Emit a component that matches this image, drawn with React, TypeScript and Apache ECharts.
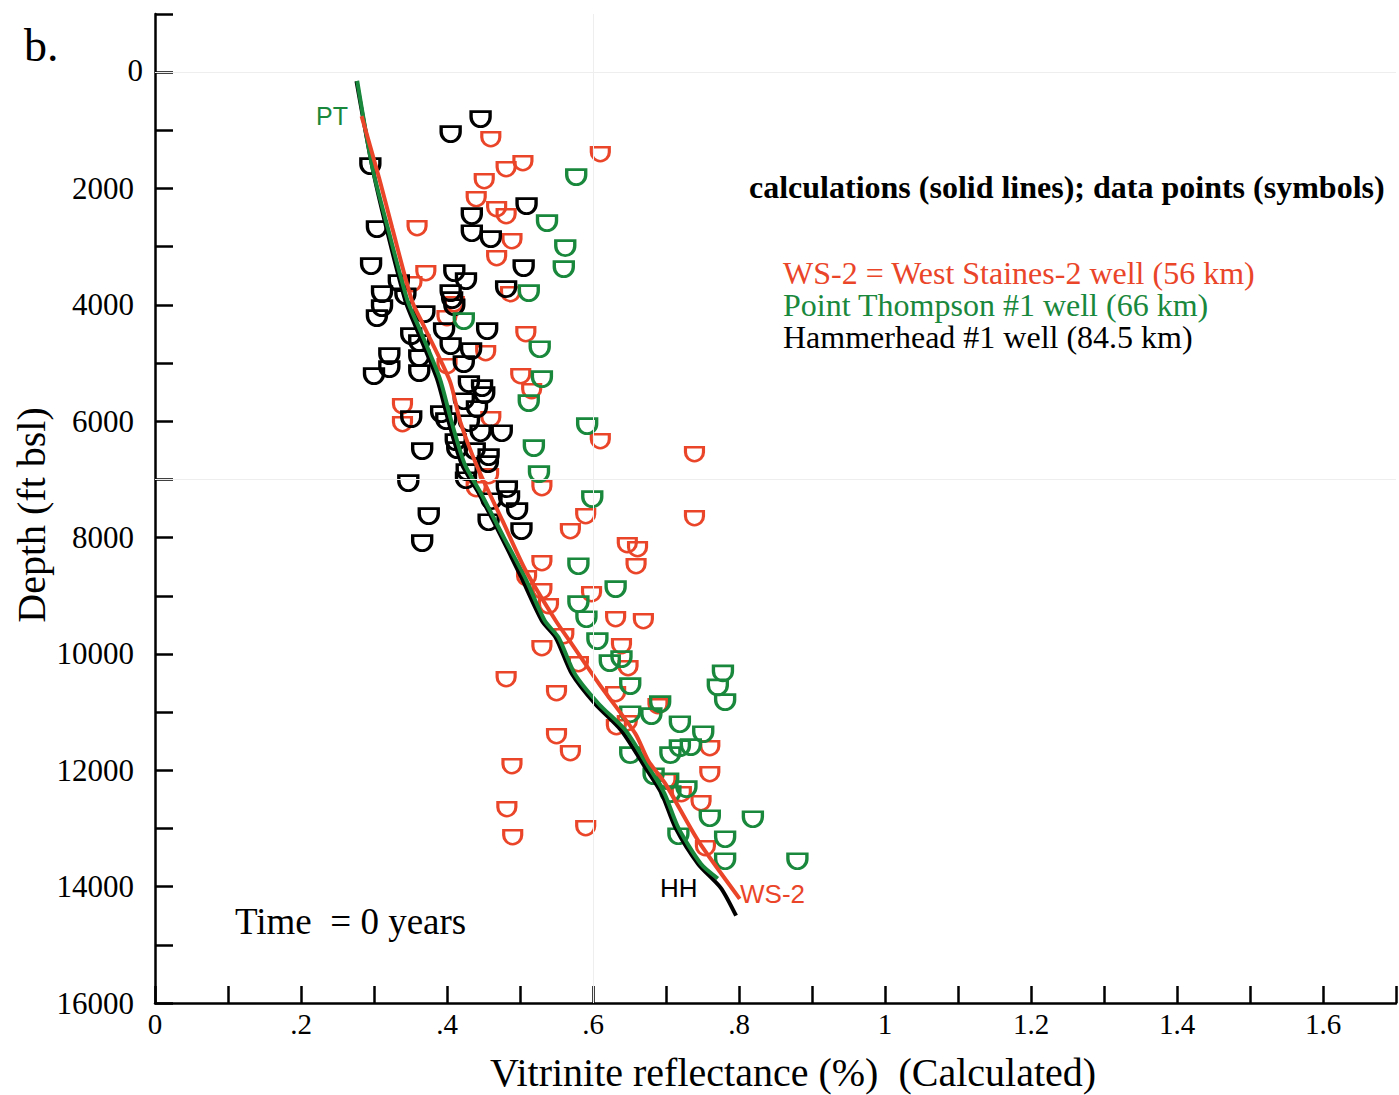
import React, { useEffect, useRef } from "react";
import * as echarts from "echarts";

// ---- data (x = vitrinite reflectance %, y = depth ft bsl) ----
const hhPoints: [number, number][] = [
  [0.446, 808], [0.405, 1066], [0.295, 1616], [0.509, 2303], [0.434, 2475], [0.434, 2768],
  [0.304, 2699], [0.46, 2871], [0.505, 3369], [0.296, 3335], [0.41, 3455], [0.426, 3593],
  [0.334, 3627], [0.481, 3730], [0.311, 3816], [0.405, 3799], [0.407, 3919], [0.343, 3851],
  [0.311, 4057], [0.41, 4040], [0.304, 4229], [0.369, 4160], [0.351, 4538], [0.396, 4452],
  [0.455, 4452], [0.362, 4658], [0.405, 4710], [0.433, 4796], [0.321, 4882], [0.362, 4916],
  [0.321, 5105], [0.3, 5226], [0.362, 5174], [0.423, 5019], [0.43, 5363], [0.448, 5432],
  [0.451, 5552], [0.423, 5656], [0.441, 5793], [0.43, 6034], [0.351, 5965], [0.392, 5879],
  [0.399, 5999], [0.446, 6206], [0.475, 6206], [0.366, 6515], [0.412, 6360], [0.414, 6498],
  [0.438, 6515], [0.457, 6618], [0.456, 6738], [0.427, 6876], [0.426, 7014], [0.347, 7065],
  [0.482, 7168], [0.485, 7340], [0.496, 7546], [0.461, 7375], [0.457, 7736], [0.502, 7890],
  [0.375, 7632], [0.366, 8096],
];

const wsPoints: [number, number][] = [
  [0.61, 1410], [0.46, 1152], [0.481, 1667], [0.504, 1564], [0.451, 1874], [0.44, 2183],
  [0.468, 2355], [0.481, 2475], [0.489, 2905], [0.468, 3197], [0.487, 3816], [0.359, 2682],
  [0.371, 3455], [0.352, 3644], [0.41, 3988], [0.4, 4229], [0.453, 4830], [0.4, 5054],
  [0.508, 4504], [0.501, 5226], [0.516, 5484], [0.339, 5741], [0.339, 6051], [0.46, 5965],
  [0.457, 6945], [0.44, 7168], [0.53, 7151], [0.61, 6343], [0.739, 6567], [0.739, 7667],
  [0.569, 7890], [0.59, 7632], [0.647, 8131], [0.661, 8200], [0.659, 8492], [0.53, 8440],
  [0.509, 8698], [0.53, 8921], [0.539, 9179], [0.598, 8973], [0.631, 9403], [0.669, 9437],
  [0.56, 9695], [0.639, 9867], [0.53, 9901], [0.648, 10245], [0.58, 10176], [0.481, 10434],
  [0.55, 10675], [0.631, 10692], [0.689, 10898], [0.647, 11191], [0.632, 11259], [0.55, 11414],
  [0.569, 11706], [0.489, 11930], [0.76, 11620], [0.76, 12067], [0.7, 12188], [0.721, 12411],
  [0.748, 12566], [0.754, 13340], [0.59, 12996], [0.482, 12669], [0.49, 13150],
];

const ptPoints: [number, number][] = [
  [0.577, 1805], [0.537, 2596], [0.562, 3025], [0.56, 3386], [0.512, 3799], [0.423, 4280],
  [0.527, 4762], [0.53, 5277], [0.512, 5690], [0.519, 6463], [0.526, 6910], [0.592, 6085],
  [0.599, 7340], [0.58, 8492], [0.631, 8887], [0.58, 9145], [0.591, 9403], [0.606, 9781],
  [0.623, 10159], [0.639, 10090], [0.651, 10554], [0.692, 10864], [0.68, 11070], [0.651, 11036],
  [0.719, 11208], [0.734, 11603], [0.719, 11620], [0.651, 11740], [0.706, 11740], [0.778, 10334],
  [0.771, 10575], [0.781, 10829], [0.751, 11380], [0.683, 12102], [0.703, 12188], [0.728, 12325],
  [0.706, 12411], [0.76, 12824], [0.819, 12841], [0.717, 13133], [0.781, 13185], [0.781, 13563],
  [0.88, 13563],
];

const hhCurve: [number, number][] = [
  [0.276, 155], [0.298, 1650], [0.317, 2680], [0.343, 3930], [0.358, 4400], [0.386, 5260],
  [0.402, 6000], [0.42, 6730], [0.444, 7250], [0.475, 8000], [0.502, 8690], [0.53, 9430],
  [0.549, 9720], [0.571, 10340], [0.603, 10860], [0.639, 11320], [0.672, 11960], [0.694, 12400],
  [0.713, 12990], [0.744, 13610], [0.775, 14020], [0.796, 14500],
];

const ptCurve: [number, number][] = [
  [0.277, 150], [0.298, 1650], [0.319, 2680], [0.346, 3930], [0.362, 4400], [0.39, 5260],
  [0.406, 6000], [0.424, 6730], [0.447, 7250], [0.478, 8000], [0.507, 8690], [0.534, 9430],
  [0.553, 9720], [0.575, 10340], [0.608, 10860], [0.645, 11320], [0.677, 11960], [0.698, 12400],
  [0.717, 12990], [0.748, 13610], [0.771, 13860],
];

const wsCurve: [number, number][] = [
  [0.283, 756], [0.307, 1820], [0.325, 2680], [0.352, 3930], [0.367, 4330], [0.404, 5310],
  [0.418, 6000], [0.442, 6800], [0.476, 7710], [0.508, 8570], [0.549, 9430], [0.571, 9830],
  [0.612, 10580], [0.658, 11370], [0.676, 11840], [0.699, 12230], [0.744, 13210], [0.801, 14210],
];

const yZeroLabel = "0";
const legendLines = [
  { key: "r", text: "WS-2 = West Staines-2 well (56 km)", color: "#ea4529" },
  { key: "g", text: "Point Thompson #1 well (66 km)", color: "#19883c" },
  { key: "k", text: "Hammerhead #1 well (84.5 km)", color: "#000000" },
];

const RED = "#ea4529";
const GREEN = "#19883c";
const BLACK = "#000000";
const SERIF = "'Liberation Serif', 'Times New Roman', Times, serif";
const SANS = "'Liberation Sans', Arial, Helvetica, sans-serif";
const CUP = "path://M0,0L20,0L20,5A10,9 0 0 1 0,5Z";

function scatter(name: string, data: [number, number][], color: string, size: number[], bw: number) {
  return {
    name,
    type: "scatter",
    data,
    symbol: CUP,
    symbolSize: size,
    itemStyle: { color: "rgba(0,0,0,0)", borderColor: color, borderWidth: bw, opacity: 1 },
    silent: true,
    z: 2,
  };
}

function curve(name: string, data: [number, number][], color: string) {
  return {
    name,
    type: "line",
    data,
    showSymbol: false,
    symbol: "none",
    smooth: 0.25,
    lineStyle: { color, width: 4 },
    silent: true,
    z: 3,
  };
}

export default function App() {
  const ref = useRef<HTMLDivElement>(null);

  useEffect(() => {
    if (!ref.current) return;
    const chart = echarts.init(ref.current, undefined, { renderer: "svg" });
    const text = (t: string, x: number, y: number, size: number, color: string, family: string, extra: any = {}) => ({
      type: "text",
      x,
      y,
      silent: true,
      rotation: extra.rotation || 0,
      style: {
        text: t,
        fontSize: size,
        fontFamily: family,
        fill: color,
        textAlign: extra.align || "left",
        textVerticalAlign: "middle",
        fontWeight: extra.weight || "normal",
        ...(extra.style || {}),
      },
    });

    const rich: any = {};
    legendLines.forEach((l) => {
      rich[l.key] = { fontSize: 32, fontFamily: SERIF, fill: l.color, color: l.color, lineHeight: 32 };
    });

    chart.setOption({
      animation: false,
      backgroundColor: "#ffffff",
      grid: { left: 155, right: 0, top: 14, bottom: 92, containLabel: false },
      xAxis: {
        type: "value",
        min: 0,
        max: 1.7,
        interval: 0.1,
        position: "bottom",
        axisLine: { onZero: false, lineStyle: { color: BLACK, width: 2.5 } },
        axisTick: { inside: true, length: 17, lineStyle: { color: BLACK, width: 2.5 } },
        splitLine: { show: false },
        axisLabel: {
          interval: 0,
          margin: 6,
          color: BLACK,
          fontSize: 29,
          fontFamily: SERIF,
          formatter: (v: number) => {
            const t = Math.round(v * 10);
            if (t % 2 !== 0) return "";
            if (t === 0) return "0";
            const s = (t / 10).toString();
            return s.startsWith("0.") ? s.slice(1) : s;
          },
        },
      },
      yAxis: {
        type: "value",
        inverse: true,
        min: -1000,
        max: 16000,
        interval: 1000,
        axisLine: { onZero: false, lineStyle: { color: BLACK, width: 2.5 } },
        axisTick: { inside: true, length: 18, lineStyle: { color: BLACK, width: 2.5 } },
        splitLine: { show: false },
        axisLabel: {
          interval: 0,
          margin: 21,
          color: BLACK,
          fontSize: 31,
          fontFamily: SERIF,
          formatter: (v: number) => (v >= 2000 && v % 2000 === 0 ? String(v) : ""),
        },
      },
      series: [
        {
          ...scatter("WS-2 data", wsPoints, RED, [18, 14], 2.8),
          markLine: {
            silent: true,
            symbol: "none",
            label: { show: false },
            lineStyle: { color: "#eeeeee", width: 1, type: "solid" },
            data: [{ yAxis: 0 }, { yAxis: 7000 }, { xAxis: 0.6 }],
          },
        },
        scatter("HH data", hhPoints, BLACK, [19, 15], 3),
        scatter("PT data", ptPoints, GREEN, [19, 15], 3),
        curve("HH", hhCurve, BLACK),
        curve("PT", ptCurve, GREEN),
        curve("WS-2", wsCurve, RED),
      ],
      graphic: [
        text("b.", 24, 45, 46, BLACK, SERIF),
        text(yZeroLabel, 143, 70, 31, BLACK, SERIF, { align: "right" }),
        text("PT", 316, 116, 25, GREEN, SANS),
        text("HH", 660, 888, 26, BLACK, SANS),
        text("WS-2", 740, 894, 26, RED, SANS),
        text("calculations (solid lines); data points (symbols)", 749, 187, 32, BLACK, SERIF, { weight: "bold" }),
        text(
          legendLines.map((l) => `{${l.key}|${l.text}}`).join("\n"),
          783,
          305,
          32,
          BLACK,
          SERIF,
          { style: { rich, lineHeight: 32 } }
        ),
        text("Time  = 0 years", 235, 921, 37, BLACK, SERIF),
        text("Vitrinite reflectance (%)  (Calculated)", 793, 1072, 40, BLACK, SERIF, { align: "center" }),
        text("Depth (ft bsl)", 31, 515, 40, BLACK, SERIF, { align: "center", rotation: Math.PI / 2 }),
      ],
    });
    return () => chart.dispose();
  }, []);

  return (
    <div
      ref={ref}
      style={{ position: "absolute", left: 0, top: 0, width: 1399, height: 1095, background: "#fff" }}
    />
  );
}
